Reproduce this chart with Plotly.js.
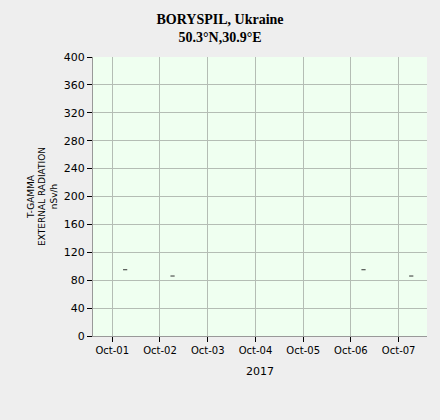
<!DOCTYPE html>
<html><head><meta charset="utf-8">
<script src="https://cdn.plot.ly/plotly-3.0.1.min.js"></script>
<style>body{margin:0;background:#eeeeee}</style>
</head><body>
<div id="chart" style="width:440px;height:420px"></div>
<script>
const times = ["2017-10-01 06:30", "2017-10-02 06:20", "2017-10-06 06:20", "2017-10-07 06:20"];
const values = [95, 86, 95, 86];
const tickVals = ["2017-10-01", "2017-10-02", "2017-10-03", "2017-10-04", "2017-10-05", "2017-10-06", "2017-10-07"];
const tickText = ["Oct-01", "Oct-02", "Oct-03", "Oct-04", "Oct-05", "Oct-06", "Oct-07"];

Plotly.newPlot("chart", [{
  x: times, y: values, type: "scatter", mode: "markers",
  marker: {symbol: "line-ew", size: 3, color: "#333333", line: {color: "#333333", width: 1}},
  hoverinfo: "none"
}], {
  width: 440, height: 420,
  paper_bgcolor: "#eeeeee", plot_bgcolor: "#effff0",
  margin: {l: 93, r: 13, t: 57, b: 84},
  showlegend: false,
  title: {text: "<b>BORYSPIL, Ukraine<br>50.3°N,30.9°E</b>", x: 0.5, xanchor: "center", y: 0.944, yanchor: "top",
    font: {family: "Liberation Serif, Times New Roman, serif", size: 14, color: "#000"}},
  xaxis: {
    type: "date", range: ["2017-09-30 14:20", "2017-10-07 14:15"],
    tickmode: "array", tickvals: tickVals, ticktext: tickText,
    ticks: "outside", ticklen: 5, tickcolor: "#000", tickwidth: 1,
    showgrid: true, gridcolor: "#b4bdb4", gridwidth: 1,
    showline: true, linecolor: "#999999", linewidth: 1, zeroline: false,
    tickfont: {family: "DejaVu Sans, Tahoma, sans-serif", size: 10, color: "#000"},
    title: {text: "2017", standoff: 12, font: {family: "DejaVu Sans, Tahoma, sans-serif", size: 11, color: "#000"}}
  },
  yaxis: {
    range: [0, 400], tickmode: "array", tickvals: [0,40,80,120,160,200,240,280,320,360,400],
    ticks: "outside", ticklen: 5, tickcolor: "#000", tickwidth: 1,
    showgrid: true, gridcolor: "#b4bdb4", gridwidth: 1,
    showline: true, linecolor: "#999999", linewidth: 1, zeroline: false,
    tickfont: {family: "DejaVu Sans, Tahoma, sans-serif", size: 11, color: "#000"},
    title: {text: "T-GAMMA<br>EXTERNAL RADIATION<br>nSv/h", standoff: 4,
      font: {family: "DejaVu Sans, Tahoma, sans-serif", size: 9, color: "#000"}}
  }
}, {displayModeBar: false, staticPlot: true});
</script>
</body></html>
